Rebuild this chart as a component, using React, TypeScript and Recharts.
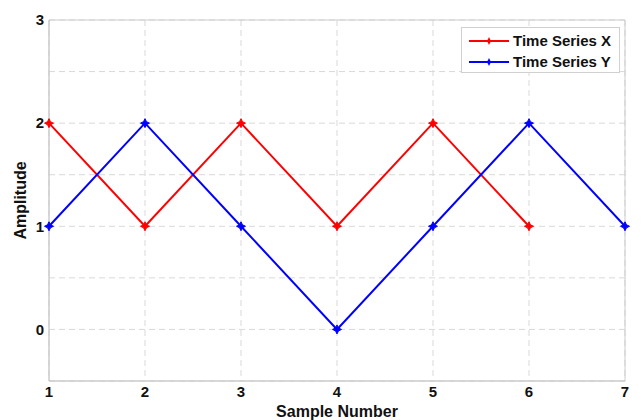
import React from "react";
import { LineChart, Line, XAxis, YAxis, CartesianGrid, ReferenceArea } from "recharts";

const samples = [1, 2, 3, 4, 5, 6, 7];
const seriesX = [2, 1, 2, 1, 2, 1, null];
const seriesY = [1, 2, 1, 0, 1, 2, 1];
const yTicks = [-0.5, 0, 0.5, 1, 1.5, 2, 2.5, 3];

const data = samples.map((s, i) => ({ sample: s, x: seriesX[i], y: seriesY[i] }));

const font = "'Liberation Sans', Arial, sans-serif";

const starPath = (cx: number, cy: number, r: number) => {
  const k = r * 0.33;
  return `M${cx},${cy - r} L${cx + k},${cy - k} L${cx + r},${cy} L${cx + k},${cy + k} L${cx},${cy + r} L${cx - k},${cy + k} L${cx - r},${cy} L${cx - k},${cy - k} Z`;
};

const makeDot = (color: string) => (props: any) => {
  const { cx, cy, index } = props;
  if (cx == null || cy == null) return <g key={`d-${index}`} />;
  return (
    <path key={`d-${color}-${index}`} d={starPath(cx, cy, 4.5)} fill={color} stroke={color} strokeWidth={1} />
  );
};

const legendItems = [
  { label: "Time Series X", color: "#ff0000" },
  { label: "Time Series Y", color: "#0000ff" },
];

// legend box drawn on top of the plot
const LegendBox = () => (
  <div
    style={{
      position: "absolute",
      left: 461,
      top: 27,
      border: "1px solid #d0d0d0",
      background: "#fff",
      width: 157,
      height: 44,
      fontFamily: font,
      fontWeight: "bold",
      fontSize: 15,
    }}
  >
    {legendItems.map((it, i) => (
      <div key={i} style={{ display: "flex", alignItems: "center", height: 21, marginTop: i === 0 ? 2 : 0 }}>
        <svg width={45} height={10} style={{ marginLeft: 6, marginRight: 0 }}>
          <line x1={1} y1={5} x2={41} y2={5} stroke={it.color} strokeWidth={2} />
          <path d={starPath(21, 5, 4)} fill={it.color} />
        </svg>
        <span style={{ color: "#111" }}>{it.label}</span>
      </div>
    ))}
  </div>
);

export default function App() {
  return (
    <div style={{ position: "fixed", left: 0, top: 0, width: 642, height: 420, background: "#fff" }}>
      <LineChart width={642} height={420} data={data} margin={{ top: 20, right: 17, left: 0, bottom: 0 }}>
        <CartesianGrid stroke="#d9d9d9" strokeDasharray="6 4" />
        <XAxis
          dataKey="sample"
          type="number"
          domain={[1, 7]}
          ticks={samples}
          height={39}
          tickLine={false}
          tickSize={0}
          tickMargin={5}
          axisLine={{ stroke: "#cccccc" }}
          tick={{ fill: "#111", fontSize: 15, fontWeight: "bold", fontFamily: font }}
          label={{
            value: "Sample Number",
            position: "insideBottom",
            offset: 3,
            fill: "#111",
            fontSize: 16,
            fontWeight: "bold",
            fontFamily: font,
          }}
        />
        <YAxis
          type="number"
          domain={[-0.5, 3]}
          ticks={yTicks}
          width={49}
          interval={0}
          tickLine={false}
          tickSize={0}
          tickMargin={5}
          axisLine={{ stroke: "#cccccc" }}
          tickFormatter={(v: number) => (Number.isInteger(v) ? String(v) : "")}
          tick={{ fill: "#111", fontSize: 15, fontWeight: "bold", fontFamily: font }}
          label={{
            value: "Amplitude",
            angle: -90,
            position: "insideLeft",
            offset: 20,
            style: { textAnchor: "middle" },
            fill: "#111",
            fontSize: 16,
            fontWeight: "bold",
            fontFamily: font,
          }}
        />
        <ReferenceArea x1={1} x2={7} y1={-0.5} y2={3} fill="none" stroke="#cccccc" strokeWidth={1} />
        <Line
          dataKey="x"
          stroke="#ff0000"
          strokeWidth={2}
          dot={makeDot("#ff0000")}
          activeDot={false}
          isAnimationActive={false}
        />
        <Line
          dataKey="y"
          stroke="#0000ff"
          strokeWidth={2}
          dot={makeDot("#0000ff")}
          activeDot={false}
          isAnimationActive={false}
        />
      </LineChart>
      <LegendBox />
    </div>
  );
}
